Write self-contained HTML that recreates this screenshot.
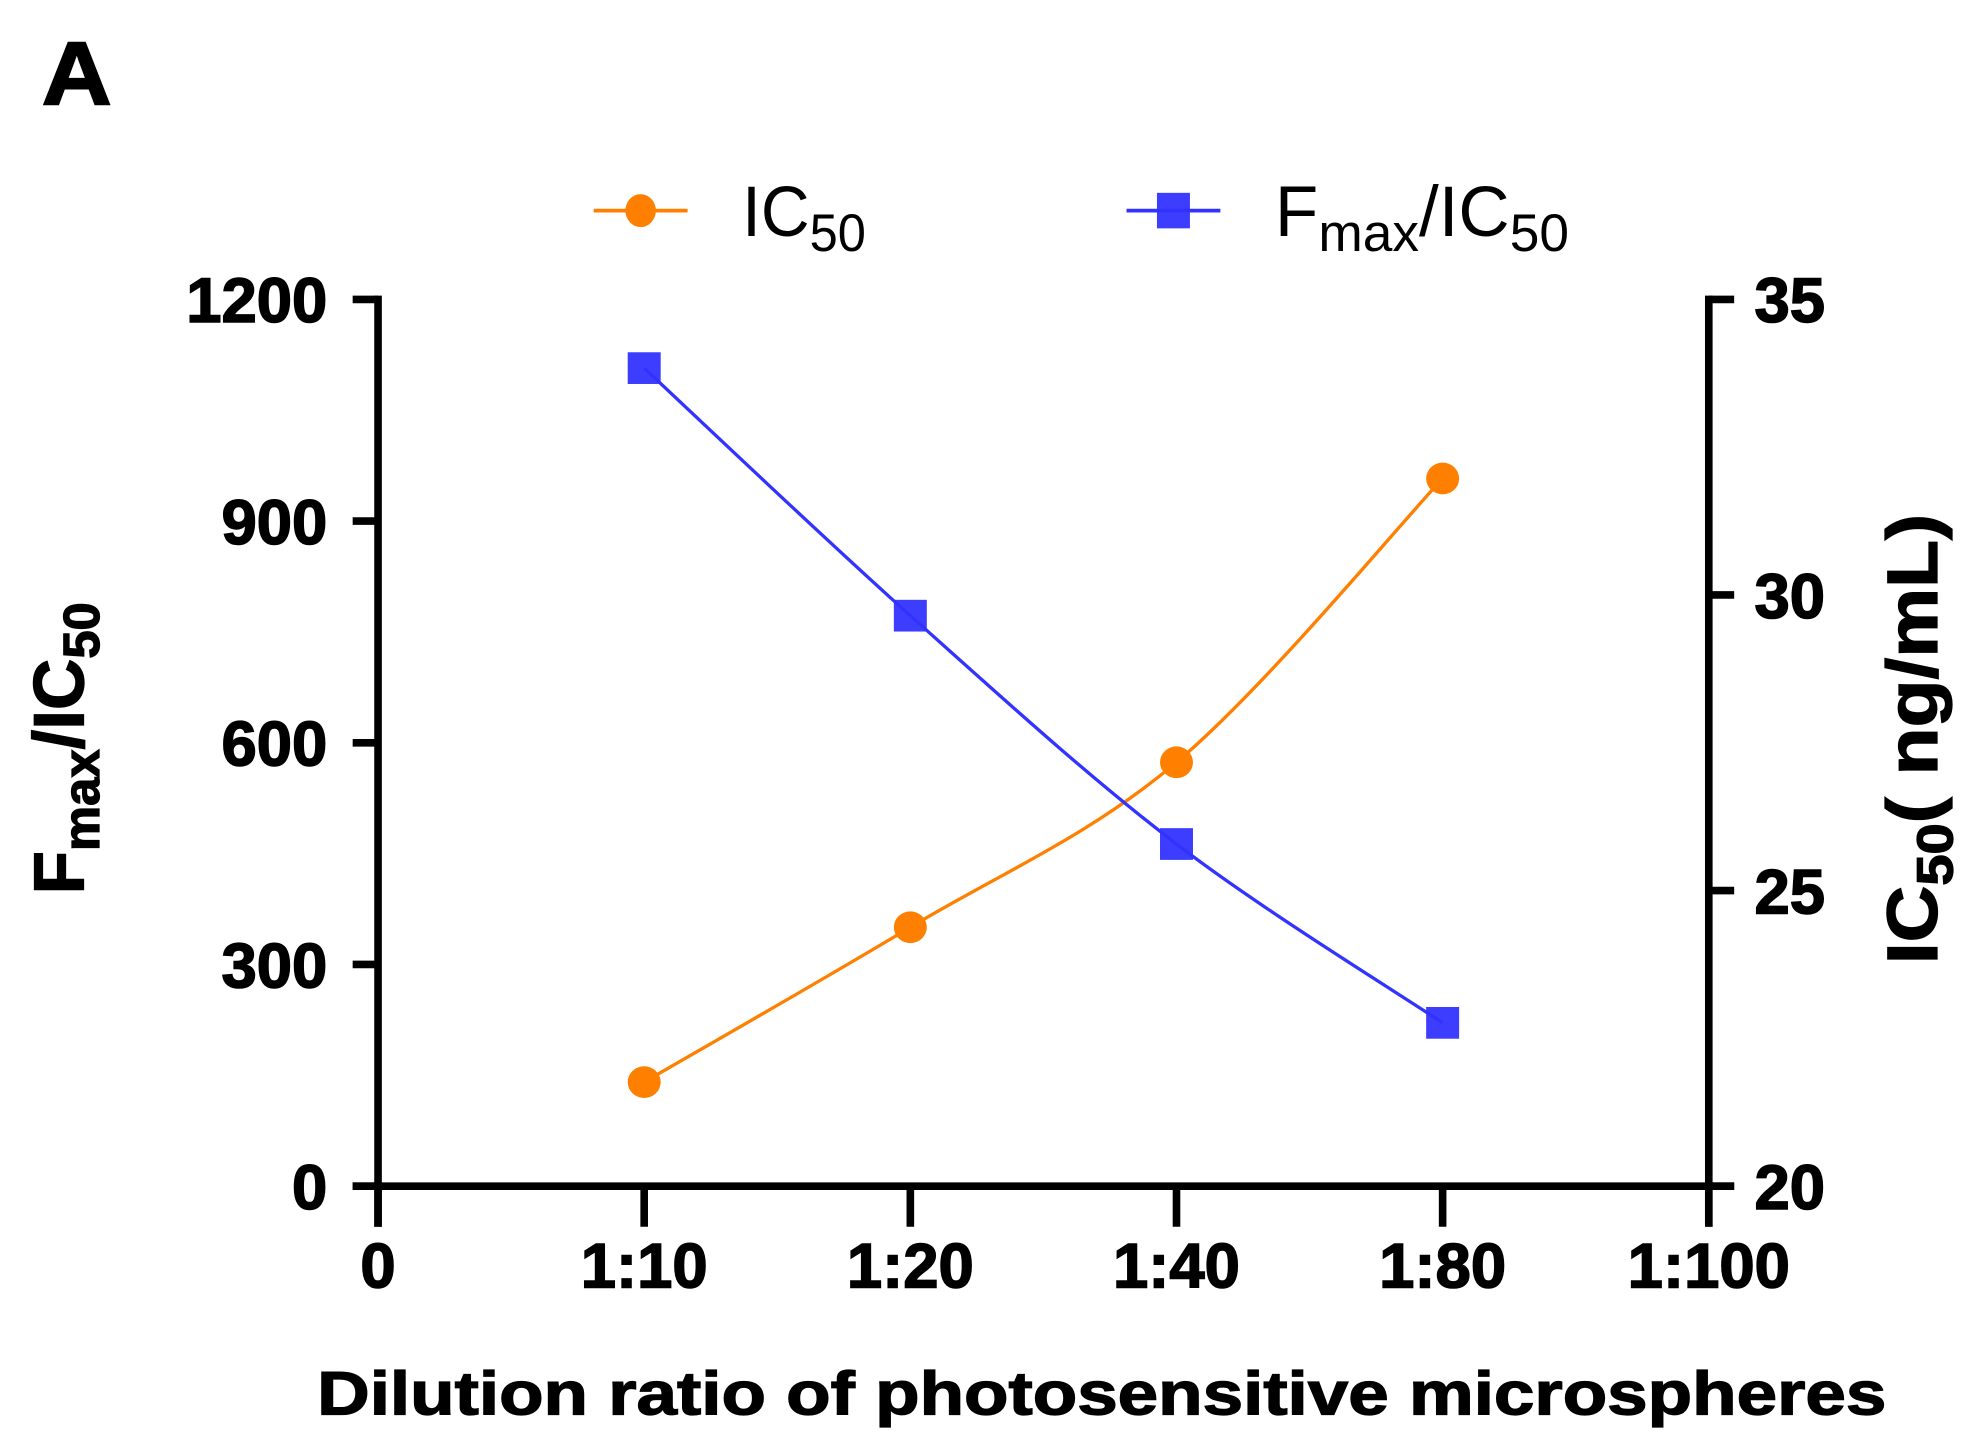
<!DOCTYPE html>
<html><head><meta charset="utf-8"><style>
html,body{margin:0;padding:0;background:#fff;}
svg{display:block;font-family:"Liberation Sans",Arial,sans-serif;}
.tk{font-weight:bold;font-size:50px;fill:#000;stroke:#000;stroke-width:1.2px;}
</style></head><body>
<svg id="chart" width="1979" height="1447" viewBox="0 0 1560 1140.6" preserveAspectRatio="none" xmlns="http://www.w3.org/2000/svg">
<text x="33" y="82" font-size="70" font-weight="bold" stroke="#000" stroke-width="1.5" textLength="55" lengthAdjust="spacingAndGlyphs">A</text>
<g>
 <g>
  <line x1="468" y1="166" x2="542" y2="166" stroke="#ff8000" stroke-width="3"/>
  <ellipse cx="505" cy="166" rx="12" ry="13" fill="#ff8000"/>
  <text x="585" y="186" font-size="56" transform="translate(585 0) scale(0.95 1) translate(-585 0)">IC<tspan font-size="42" dy="12">50</tspan></text>
 </g>
 <g>
  <line x1="888" y1="166" x2="962" y2="166" stroke="#3333ff" stroke-width="3"/>
  <rect x="912" y="152" width="26" height="28" fill="#3333ff" opacity="0.95"/>
  <text x="1005" y="186" font-size="56">F<tspan font-size="42" dy="12">max</tspan><tspan dy="-12">/IC</tspan><tspan font-size="42" dy="12">50</tspan></text>
 </g>
</g>
<g id="axes"></g>
<g id="marks"></g>
<text x="250" y="1115" font-size="48" font-weight="bold" stroke="#000" stroke-width="1" textLength="1237" lengthAdjust="spacingAndGlyphs">Dilution ratio of photosensitive microspheres</text>
<text transform="translate(66 705) rotate(-90)" font-size="56" font-weight="bold" stroke="#000" stroke-width="1">F<tspan font-size="40" dy="12">max</tspan><tspan dy="-12">/IC</tspan><tspan font-size="40" dy="12">50</tspan></text>
<text transform="translate(1527 760) rotate(-90)" font-size="56" font-weight="bold" stroke="#000" stroke-width="1" textLength="355" lengthAdjust="spacingAndGlyphs">IC<tspan font-size="40" dy="12">50</tspan><tspan dy="-12">( ng/mL)</tspan></text>
</svg>
<script>
const categories = ["1:10","1:20","1:40","1:80"];
const xTickLabels = ["0","1:10","1:20","1:40","1:80","1:100"];
const fmaxValues = [1107, 772, 463, 221];
const ic50Values = [21.76, 24.38, 27.17, 31.97];
const leftTicks = [0, 300, 600, 900, 1200];
const rightTicks = [20, 25, 30, 35];

const NS = "http://www.w3.org/2000/svg";
const X0 = 298, X1 = 1347, Y0 = 935, Y1 = 236;
const SX = 1.0;
function xPos(i){ return X0 + (X1 - X0) * i / (xTickLabels.length - 1); }
function yLeft(v){ return Y0 - (v - 0) / (1200 - 0) * (Y0 - Y1); }
function yRight(v){ return Y0 - (v - 20) / (35 - 20) * (Y0 - Y1); }
function mk(tag, attrs, parent){ const e = document.createElementNS(NS, tag); for (const k in attrs) e.setAttribute(k, attrs[k]); parent.appendChild(e); return e; }
const axes = document.getElementById('axes');
const marks = document.getElementById('marks');

let l = mk('line', {x1:X0, y1:Y1-3, x2:X0, y2:Y0+32, stroke:'#000','stroke-width':6}, axes);


l = mk('line', {x1:X1, y1:Y1-3, x2:X1, y2:Y0+32, stroke:'#000','stroke-width':6}, axes);


l = mk('line', {x1:X0-20, y1:Y0, x2:X1+20, y2:Y0, stroke:'#000','stroke-width':6}, axes);



function tickText(x, y, anchor, s){
  const t = mk('text', {x:x, y:y, 'text-anchor':anchor, class:'tk', transform:`translate(${x} 0) scale(${SX} 1) translate(${-x} 0)`}, axes);
  t.textContent = s;
  return t;
}
leftTicks.forEach(v => {
  const y = yLeft(v);
  mk('line', {x1:X0-20, y1:y, x2:X0, y2:y, stroke:'#000','stroke-width':6}, axes);
  const t = tickText(X0-40, y+18, 'end', v);
  
  
});
rightTicks.forEach(v => {
  const y = yRight(v);
  mk('line', {x1:X1, y1:y, x2:X1+20, y2:y, stroke:'#000','stroke-width':6}, axes);
  const t = tickText(X1+36, y+18, 'start', v);
  
  
});
xTickLabels.forEach((s, i) => {
  const x = xPos(i);
  mk('line', {x1:x, y1:Y0, x2:x, y2:Y0+32, stroke:'#000','stroke-width':6}, axes);
  const t = tickText(x, 1015, 'middle', s);
  
  
});

function smoothPath(pts){
  let d = `M${pts[0][0]},${pts[0][1]}`;
  for (let i = 0; i < pts.length - 1; i++) {
    const p0 = pts[Math.max(0,i-1)], p1 = pts[i], p2 = pts[i+1], p3 = pts[Math.min(pts.length-1,i+2)];
    const c1 = [p1[0] + (p2[0]-p0[0])/6, p1[1] + (p2[1]-p0[1])/6];
    const c2 = [p2[0] - (p3[0]-p1[0])/6, p2[1] - (p3[1]-p1[1])/6];
    d += ` C${c1[0]},${c1[1]} ${c2[0]},${c2[1]} ${p2[0]},${p2[1]}`;
  }
  return d;
}
const ptsIc = ic50Values.map((v,i) => [xPos(i+1), yRight(v)]);
const ptsF = fmaxValues.map((v,i) => [xPos(i+1), yLeft(v)]);
let p = mk('path', {d:smoothPath(ptsIc), fill:'none', stroke:'#ff8000','stroke-width':2.6}, marks);


p = mk('path', {d:smoothPath(ptsF), fill:'none', stroke:'#3333ff','stroke-width':2.6}, marks);


ptsIc.forEach(pt => {
  const c = mk('ellipse', {cx:pt[0], cy:pt[1], rx:13, ry:12.5, fill:'#ff8000'}, marks);
  
  
});
ptsF.forEach(pt => {
  const r = mk('rect', {x:pt[0]-13, y:pt[1]-12.5, width:26, height:25, fill:'#3333ff', opacity:0.95}, marks);
  
  
});
</script>
</body></html>
